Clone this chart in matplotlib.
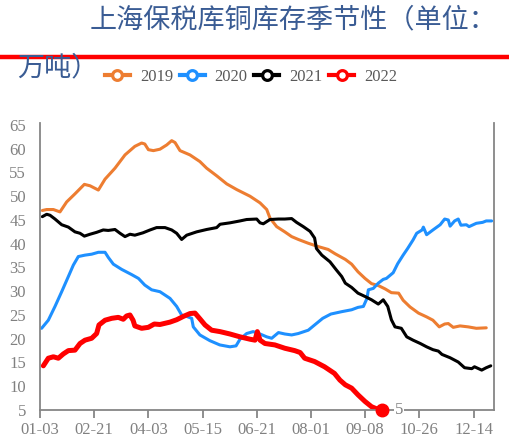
import matplotlib
matplotlib.use("Agg")
import matplotlib.pyplot as plt
from matplotlib.lines import Line2D

plt.rcParams['font.family'] = ['Liberation Serif', 'Noto Sans CJK SC', 'DejaVu Sans']

# ---------------- data (x = week index from 01-03) ----------------
tick_pos = [0, 6, 12, 18, 24, 30, 36, 42, 48]
tick_labels = ['01-03', '02-21', '04-03', '05-15', '06-21', '08-01', '09-08', '10-26', '12-14']
y_ticks = [5, 10, 15, 20, 25, 30, 35, 40, 45, 50, 55, 60, 65]
years = ['2019', '2020', '2021', '2022']

x19 = [0.26, 0.74, 1.48, 2.21, 2.95, 3.87, 4.91, 5.54, 6.46, 7.2, 8.3, 9.41, 10.5, 11.25, 11.6, 12.0,
       12.55, 13.28, 14.03, 14.58, 14.95, 15.5, 16.6, 17.7, 18.45, 19.56, 20.67, 21.78, 23.25, 24.36,
       25.1, 25.46, 26.2, 27.1, 27.86, 28.6, 29.7, 30.8, 31.9, 32.66, 33.8, 34.5, 35.2, 35.98, 36.7,
       37.45, 38.2, 38.9, 39.7, 40.2, 40.96, 41.9, 42.8, 43.5, 44.2, 44.8, 45.2, 45.75, 46.5, 47.4,
       48.3, 49.4]
y19 = [47.0, 47.2, 47.2, 46.7, 48.8, 50.5, 52.5, 52.2, 51.3, 53.6, 55.9, 58.7, 60.5, 61.2, 61.0, 59.8,
       59.6, 59.9, 60.8, 61.7, 61.3, 59.6, 58.7, 57.3, 55.9, 54.3, 52.6, 51.4, 50.0, 48.6,
       47.2, 45.4, 43.6, 42.5, 41.5, 40.9, 40.1, 39.4, 38.8, 37.9, 36.7, 35.7, 34.1, 32.7, 31.6,
       31.2, 30.5, 29.7, 29.6, 28.1, 26.7, 25.4, 24.6, 23.9, 22.5, 23.1, 23.2, 22.4, 22.7, 22.5,
       22.2, 22.3]

x20 = [0.18, 0.92, 1.66, 2.4, 3.14, 3.69, 4.24, 4.98, 5.72, 6.46, 7.2, 7.57, 8.12, 9.04, 10.15, 10.9,
       11.6, 12.36, 13.28, 14.39, 15.13, 15.68, 16.24, 16.79, 16.97, 17.7, 18.8, 19.9, 21.03, 21.7,
       22.14, 22.88, 23.6, 24.36, 25.1, 25.65, 26.4, 27.1, 27.86, 28.6, 29.7, 30.4, 31.3, 32.2, 33.4,
       34.5, 35.2, 35.8, 36.2, 36.35, 36.9, 37.45, 38.0, 38.35, 39.1, 39.6, 40.2, 40.7, 41.3, 41.7,
       42.3, 42.44, 42.8, 43.5, 44.3, 44.8, 45.2, 45.4, 45.9, 46.3, 46.6, 47.2, 47.5, 48.3, 49.0,
       49.4, 50.0]
y20 = [22.2, 23.9, 26.8, 29.9, 33.1, 35.5, 37.3, 37.6, 37.8, 38.2, 38.2, 37.1, 35.7, 34.6, 33.5, 32.7,
       31.3, 30.3, 29.9, 28.5, 26.8, 25.0, 24.7, 24.3, 22.5, 20.8, 19.6, 18.7, 18.3, 18.5,
       19.9, 21.1, 21.5, 21.0, 20.4, 20.1, 21.3, 21.0, 20.8, 21.1, 21.8, 22.9, 24.3, 25.2, 25.7,
       26.1, 26.6, 26.8, 28.5, 30.3, 30.6, 31.7, 32.5, 32.7, 33.9, 35.8, 37.6, 39.0, 40.8, 42.2,
       42.9, 43.5, 41.9, 42.9, 44.0, 45.2, 45.0, 43.7, 44.8, 45.2, 43.9, 44.0, 43.6, 44.3, 44.5,
       44.8, 44.8]

x21 = [0.26, 0.74, 1.11, 1.66, 2.4, 3.14, 3.87, 4.43, 4.91, 5.54, 6.27, 7.0, 7.56, 8.3, 8.86, 9.41,
       9.96, 10.5, 11.4, 12.18, 12.91, 13.84, 14.58, 15.13, 15.68, 16.24, 17.34, 18.45, 19.56, 19.93,
       21.03, 22.14, 22.88, 23.99, 24.36, 24.72, 25.46, 26.4, 27.1, 27.86, 28.4, 29.15, 29.9, 30.4,
       30.6, 31.2, 32.1, 32.8, 33.4, 33.8, 34.5, 35.2, 35.98, 36.7, 37.45, 38.0, 38.5, 38.9, 39.3,
       40.0, 40.6, 41.3, 42.1, 42.8, 43.5, 44.1, 44.5, 45.4, 46.3, 47.0, 47.8, 48.1, 48.9, 49.4, 49.9]
y21 = [45.7, 46.2, 46.0, 45.2, 44.0, 43.5, 42.5, 42.2, 41.6, 42.0, 42.4, 42.9, 42.8, 43.0, 42.2, 41.5,
       42.0, 41.8, 42.3, 42.9, 43.4, 43.4, 42.9, 42.2, 40.9, 41.8, 42.5, 43.0, 43.4, 44.1,
       44.4, 44.8, 45.1, 45.2, 44.4, 44.2, 45.1, 45.2, 45.2, 45.3, 44.5, 43.6, 42.6, 41.2,
       39.0, 37.6, 36.2, 34.5, 33.1, 31.7, 30.8, 29.6, 28.9, 28.2, 27.3, 28.2, 26.8, 24.0, 22.5,
       22.2, 20.4, 19.7, 19.0, 18.3, 17.7, 17.4, 16.7, 16.0, 15.1, 13.9, 13.7, 14.1, 13.4, 13.9, 14.3]

x22 = [0.37, 0.92, 1.48, 2.03, 2.58, 3.14, 3.87, 4.43, 4.98, 5.72, 6.27, 6.53, 7.2, 7.94, 8.67, 9.22,
       9.59, 9.96, 10.3, 10.5, 11.25, 11.99, 12.65, 13.28, 14.39, 15.13, 15.87, 16.6, 17.16, 17.7,
       18.27, 19.0, 19.93, 21.03, 22.14, 23.25, 23.8, 24.06, 24.36, 24.9, 26.0, 27.1, 28.2, 28.8,
       29.3, 30.4, 31.5, 32.6, 33.2, 33.8, 34.5, 35.2, 35.98, 36.7, 37.45, 37.9]
y22 = [14.3, 15.9, 16.2, 15.9, 16.8, 17.5, 17.6, 19.0, 19.7, 20.1, 21.1, 22.9, 23.9, 24.3, 24.5, 24.1,
       24.8, 25.0, 23.9, 22.7, 22.2, 22.4, 23.1, 23.0, 23.5, 24.0, 24.7, 25.3, 25.4, 24.2,
       22.9, 21.8, 21.5, 21.0, 20.4, 19.9, 19.7, 21.5, 19.7, 19.0, 18.7, 18.0, 17.5, 17.1,
       15.9, 15.2, 14.1, 12.7, 11.3, 10.3, 9.6, 8.2, 6.8, 5.7, 5.1, 5.0]

colors = ['#ED7D31', '#1E90FF', '#000000', '#FF0000']
widths = [2.2, 2.2, 2.2, 3.6]
xs = [x19, x20, x21, x22]
ys = [y19, y20, y21, y22]

# ---------------- figure ----------------
W, H = 510, 447
fig = plt.figure(figsize=(W / 100, H / 100), dpi=100)
ax = fig.add_axes([40 / W, 1 - 410 / H, 454 / W, (410 - 122.6) / H])

for x, y, c, lw in zip(xs, ys, colors, widths):
    ax.plot(x, y, color=c, lw=lw, solid_joinstyle='round', solid_capstyle='round')

# last point of 2022 with label
ax.plot([x22[-1]], [y22[-1]], 'o', color='#FF0000', ms=9, clip_on=False, zorder=5)
ax.annotate(str(int(round(y22[-1]))), (x22[-1], y22[-1]), xytext=(12, 0), textcoords='offset points',
            ha='center', va='center', fontsize=12, color='#808080',
            bbox=dict(boxstyle='square,pad=0.05', fc='white', ec='none'), annotation_clip=False, zorder=6)

ax.set_xlim(0, 50.26)
ax.set_ylim(5, 65.5)
ax.set_xticks(tick_pos)
ax.set_xticklabels(tick_labels)
ax.set_yticks(y_ticks)
ax.tick_params(axis='x', direction='out', length=6, width=1.3, color='#868686',
               labelsize=12, labelcolor='#808080', pad=3)
ax.tick_params(axis='y', length=0, labelsize=12, labelcolor='#808080', pad=10)
for s in ['left', 'bottom', 'right']:
    ax.spines[s].set_color('#868686')
    ax.spines[s].set_linewidth(1.3)
ax.spines['top'].set_visible(False)

# title
title_font = ['Noto Sans CJK SC', 'DejaVu Sans']
fig.text(90 / W, 1 - 20 / H, '上海保税库铜库存季节性（单位：', fontsize=19.5, color='#3A5C94',
         family=title_font, ha='left', va='center')
fig.text(17 / W, 1 - 68 / H, '万吨）', fontsize=19.5, color='#3A5C94',
         family=title_font, ha='left', va='center')
fig.add_artist(Line2D([0, 1], [1 - 57 / H, 1 - 57 / H], color='#FF0000', lw=3.2,
                      transform=fig.transFigure))

# legend
handles = [Line2D([], [], color=c, lw=3, marker='o', ms=7, mfc='white', mec=c, mew=2.3)
           for c in colors]
fig.legend(handles, years, loc='center', bbox_to_anchor=(251 / W, 1 - 77 / H), ncol=4,
           frameon=False, fontsize=12, labelcolor='#595959', handlelength=1.5,
           handletextpad=0.6, columnspacing=0.4, borderpad=0, borderaxespad=0)

fig.savefig('out.png', dpi=100)
